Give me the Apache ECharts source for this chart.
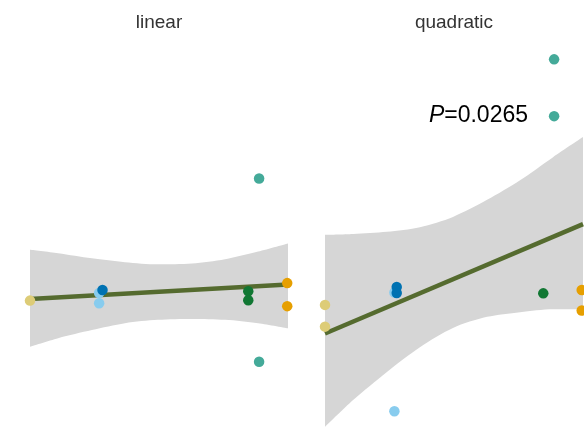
<!DOCTYPE html>
<html>
<head>
<meta charset="utf-8">
<script src="https://cdn.jsdelivr.net/npm/echarts@6/dist/echarts.min.js"></script>
<style>
html,body{margin:0;padding:0;background:#fff;}
#chart{width:584px;height:427px;}
</style>
</head>
<body>
<div id="chart"></div>
<script>
// Panel titles
const panelTitles = ['linear', 'quadratic'];
const pLabel = '=0.0265';

// Group colours (order = draw order)
const groupNames = ['yellow', 'lightblue', 'blue', 'green', 'teal', 'orange'];
const groupColors = ['#DDCC77', '#88CCEE', '#0072B2', '#117733', '#44AA99', '#E69F00'];

// Points, linear panel: [x, y]
const linYellow = [[0, 2.96]];
const linLightBlue = [[2.68, 3.14], [2.68, 2.90]];
const linBlue = [[2.81, 3.21]];
const linGreen = [[8.46, 3.18], [8.46, 2.97]];
const linTeal = [[8.88, 5.82], [8.88, 1.53]];
const linOrange = [[9.97, 3.37], [9.97, 2.83]];

// Points, quadratic panel: [x, y]
const quadYellow = [[0, 2.86], [0, 2.35]];
const quadLightBlue = [[2.69, 3.15], [2.69, 0.37]];
const quadBlue = [[2.78, 3.28], [2.78, 3.14]];
const quadGreen = [[8.46, 3.13]];
const quadTeal = [[8.88, 8.61], [8.88, 7.28]];
const quadOrange = [[9.95, 3.21], [9.95, 2.73]];

// Fitted lines
const linFit = [[0, 3.00], [10, 3.34]];
const quadFit = [[0, 2.19], [10, 4.75]];

// Confidence bands
const linBandX = [0, 1.09, 2.40, 3.68, 4.96, 6.28, 7.56, 8.84, 10];
const linBandUpper = [4.15, 4.07, 3.95, 3.86, 3.81, 3.83, 3.93, 4.11, 4.30];
const linBandLower = [1.88, 2.08, 2.27, 2.43, 2.51, 2.53, 2.51, 2.43, 2.31];

const quadBandX = [0, 1.09, 2.40, 3.68, 4.96, 6.28, 7.56, 8.84, 10];
const quadBandUpper = [4.50, 4.52, 4.57, 4.68, 4.92, 5.32, 5.78, 6.32, 6.79];
const quadBandLower = [0.00, 0.63, 1.29, 1.87, 2.32, 2.58, 2.69, 2.76, 2.76];

const linPoints = [linYellow, linLightBlue, linBlue, linGreen, linTeal, linOrange];
const quadPoints = [quadYellow, quadLightBlue, quadBlue, quadGreen, quadTeal, quadOrange];

const chart = echarts.init(document.getElementById('chart'), null, {renderer: 'canvas'});

function bandSeries(idx, xs, lower, upper) {
  // upper edge filled grey down to the axis, lower edge filled white down to the axis
  return [
    {
      type: 'line', xAxisIndex: idx, yAxisIndex: idx,
      data: xs.map((x, i) => [x, upper[i]]),
      smooth: 0.3, symbol: 'none', silent: true,
      lineStyle: {width: 0, opacity: 0},
      areaStyle: {color: '#d6d6d6', opacity: 1, origin: 'start'}, z: 1
    },
    {
      type: 'line', xAxisIndex: idx, yAxisIndex: idx,
      data: xs.map((x, i) => [x, lower[i]]),
      smooth: 0.3, symbol: 'none', silent: true,
      lineStyle: {width: 0, opacity: 0},
      areaStyle: {color: '#ffffff', opacity: 1, origin: 'start'}, z: 1
    }
  ];
}

function fitSeries(idx, data) {
  return {
    type: 'line', xAxisIndex: idx, yAxisIndex: idx, data: data,
    symbol: 'none', silent: true,
    lineStyle: {color: '#556B2F', width: 4.5}, z: 2
  };
}

function pointSeries(idx, groups) {
  return groups.map((g, k) => ({
    type: 'scatter', xAxisIndex: idx, yAxisIndex: idx, name: groupNames[k],
    data: g, symbolSize: 10.5, clip: false,
    itemStyle: {color: groupColors[k], opacity: 1}, z: 3
  }));
}

const series = [].concat(
  bandSeries(0, linBandX, linBandLower, linBandUpper),
  bandSeries(1, quadBandX, quadBandLower, quadBandUpper),
  [fitSeries(0, linFit), fitSeries(1, quadFit)],
  pointSeries(0, linPoints),
  pointSeries(1, quadPoints)
);

const axisCommon = {type: 'value', min: 0, max: 10, show: false};

chart.setOption({
  animation: false,
  backgroundColor: '#ffffff',
  grid: [
    {left: 30, width: 258, top: 0, height: 427},
    {left: 325, width: 258, top: 0, height: 427}
  ],
  xAxis: [Object.assign({gridIndex: 0}, axisCommon), Object.assign({gridIndex: 1}, axisCommon)],
  yAxis: [Object.assign({gridIndex: 0}, axisCommon), Object.assign({gridIndex: 1}, axisCommon)],
  graphic: [
    {type: 'text', x: 159, y: 23, style: {text: panelTitles[0], font: '19px "Liberation Sans", Arial, sans-serif', fill: '#333333', align: 'center', verticalAlign: 'middle'}},
    {type: 'text', x: 454, y: 23, style: {text: panelTitles[1], font: '19px "Liberation Sans", Arial, sans-serif', fill: '#333333', align: 'center', verticalAlign: 'middle'}},
    {type: 'text', x: 528, y: 116, z: 10, style: {
      text: '{i|P}' + pLabel,
      font: '23px "Liberation Sans", Arial, sans-serif', fill: '#000000',
      align: 'right', verticalAlign: 'middle',
      rich: {i: {fontStyle: 'italic', fontSize: 23, fontFamily: '"Liberation Sans", Arial, sans-serif', fill: '#000000'}}
    }}
  ],
  series: series
});
</script>
</body>
</html>
